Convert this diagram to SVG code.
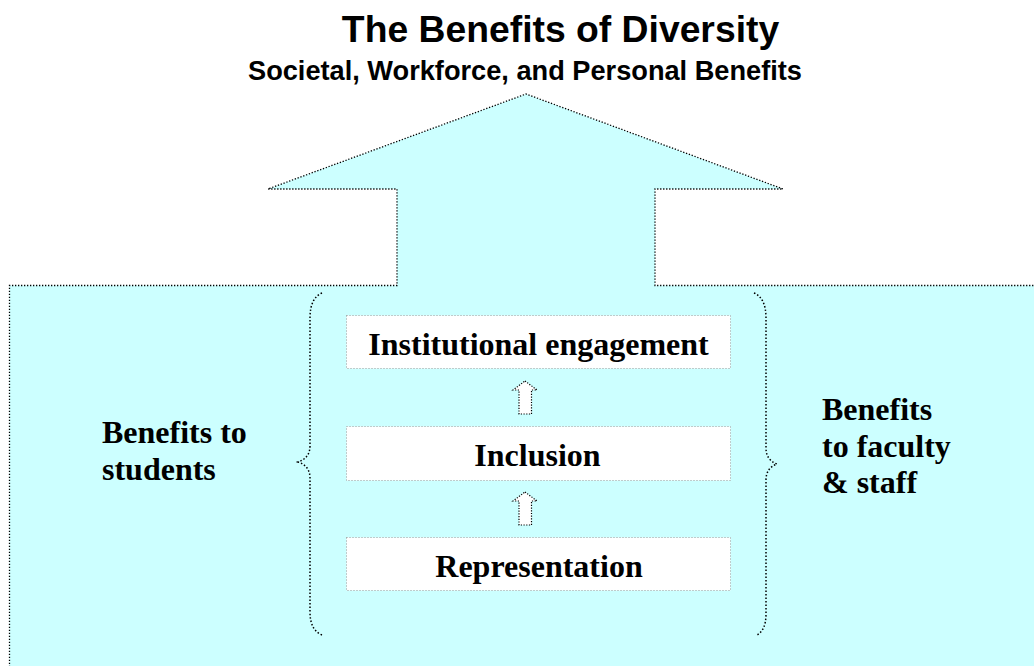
<svg xmlns="http://www.w3.org/2000/svg" width="1034" height="666" viewBox="0 0 1034 666">
<style>
.bg{fill:#ccffff;stroke:#000;stroke-width:1.3;stroke-dasharray:1.3 1.7}
.box{fill:#fff;stroke:#999;stroke-width:1;stroke-dasharray:1 2}
.brace{fill:none;stroke:#000;stroke-width:1.5;stroke-dasharray:1.5 2}
.arr{fill:#fff;stroke:#000;stroke-width:1.2;stroke-dasharray:1.2 1.5}
.t{font-family:"Liberation Serif","Times New Roman",serif;font-weight:bold;font-size:32px;fill:#000}
.h{font-family:"Liberation Sans",Arial,sans-serif;font-weight:bold;fill:#000;text-anchor:middle}
</style>
<rect width="1034" height="666" fill="#fff"/>
<g id="title">
<text class="h" x="560.5" y="42" font-size="37.3">The Benefits of Diversity</text>
<text class="h" x="525" y="80" font-size="27.2">Societal, Workforce, and Personal Benefits</text>
</g>
<g id="house">
<path class="bg" d="M9.5,700 L9.5,285.5 L397,285.5 L397,189 L268,189 L526,94 L783,189 L655,189 L655,285.5 L1040,285.5 L1040,700 Z"/>
</g>
<g id="braces">
<path class="brace" d="M322,293 Q310,298 310,318 L310,446 Q310,458 298,462 Q310,466 310,478 L310,612 Q310,630 322,635"/>
<path class="brace" d="M754,293 Q766,298 766,318 L766,448 Q766,460 777,464 Q766,468 766,480 L766,614 Q766,630 757,635"/>
</g>
<g id="node-engagement">
<rect class="box" x="346.5" y="315.5" width="384" height="53"/>
<text class="t" x="538.5" y="355" text-anchor="middle">Institutional engagement</text>
</g>
<g id="node-inclusion">
<rect class="box" x="346.5" y="426.5" width="384" height="54"/>
<text class="t" x="537.5" y="466" text-anchor="middle">Inclusion</text>
</g>
<g id="node-representation">
<rect class="box" x="346.5" y="537.5" width="384" height="53"/>
<text class="t" x="539" y="577" text-anchor="middle">Representation</text>
</g>
<g id="connectors">
<path class="arr" d="M525,381 L537,390 L531.5,390 L531.5,414 L519,414 L519,390 L513,390 Z"/>
<path class="arr" d="M525,492 L537,501 L531.5,501 L531.5,525 L519,525 L519,501 L513,501 Z"/>
</g>
<g id="label-students">
<text class="t" x="102" y="443">Benefits to</text>
<text class="t" x="102" y="480">students</text>
</g>
<g id="label-faculty">
<text class="t" x="822" y="420">Benefits</text>
<text class="t" x="822" y="457">to faculty</text>
<text class="t" x="822" y="493">&amp; staff</text>
</g>
</svg>
